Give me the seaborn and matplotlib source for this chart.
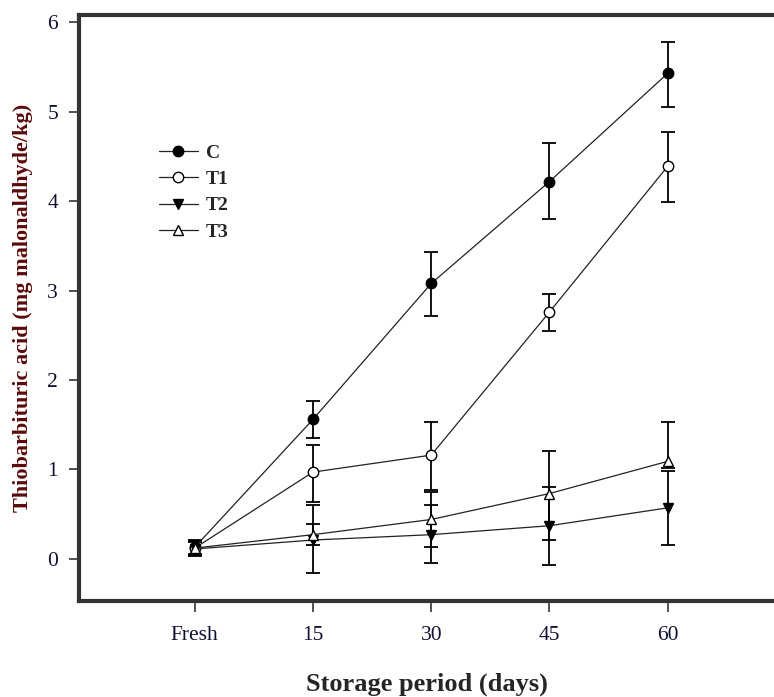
import numpy as np
import pandas as pd
import matplotlib
matplotlib.use("Agg")
import matplotlib.pyplot as plt
import seaborn as sns

# values
days = ["Fresh", "15", "30", "45", "60"]
c_vals = [0.13, 1.56, 3.08, 4.22, 5.43]
t1_vals = [0.12, 0.97, 1.16, 2.76, 4.39]
t2_vals = [0.11, 0.21, 0.27, 0.37, 0.57]
t3_vals = [0.12, 0.27, 0.44, 0.73, 1.09]

# lower / upper error bar lengths
c_lo = [0.08, 0.21, 0.36, 0.42, 0.37]
c_hi = [0.08, 0.21, 0.35, 0.43, 0.35]
t1_lo = [0.08, 0.34, 0.39, 0.21, 0.40]
t1_hi = [0.08, 0.30, 0.37, 0.20, 0.39]
t2_lo = [0.08, 0.37, 0.32, 0.44, 0.41]
t2_hi = [0.08, 0.39, 0.33, 0.43, 0.41]
t3_lo = [0.08, 0.12, 0.31, 0.52, 0.07]
t3_hi = [0.08, 0.12, 0.31, 0.48, 0.44]

series = {
    "C": (c_vals, c_lo, c_hi, "o", "black"),
    "T1": (t1_vals, t1_lo, t1_hi, "o", "white"),
    "T2": (t2_vals, t2_lo, t2_hi, "v", "black"),
    "T3": (t3_vals, t3_lo, t3_hi, "^", "white"),
}

sns.set_style("white")
plt.rcParams["font.family"] = ["Liberation Serif", "DejaVu Serif"]

fig = plt.figure(figsize=(7.74, 6.97), dpi=100)
ax = fig.add_axes([0.102, 0.138, 0.898, 0.840])

x = np.arange(len(days))
for name, (vals, lo, hi, mk, face) in series.items():
    ax.errorbar(x, vals, yerr=[lo, hi], fmt="none", ecolor="black",
                elinewidth=1.3, capsize=5, capthick=1.3, zorder=2)
    sns.lineplot(x=x, y=vals, ax=ax, color="#222222", linewidth=0.9,
                 marker=mk, markersize=7.5, markerfacecolor=face,
                 markeredgecolor="black", markeredgewidth=1.0,
                 label=name, zorder=3)

ax.set_xlim(-0.98, 4.9)
ax.set_ylim(-0.47, 6.08)
ax.set_xticks(x)
ax.set_xticklabels(days)
ax.set_yticks(range(0, 7))

for side in ["left", "top", "bottom"]:
    ax.spines[side].set_linewidth(3)
    ax.spines[side].set_color("#333333")
ax.spines["right"].set_visible(False)

ax.tick_params(axis="both", direction="out", length=7, width=1.2,
               bottom=True, left=True,
               color="#333333", labelsize=15.5, labelcolor="#111133", pad=8)
ax.tick_params(axis="x", length=8, pad=10)

ax.set_xlabel("Storage period (days)", fontsize=19, fontweight="bold",
              labelpad=20)
ax.set_ylabel("Thiobarbituric acid (mg malonaldhyde/kg)", fontsize=16,
              fontweight="bold", color="#5a0a0a", labelpad=10)

leg = ax.legend(loc="upper left", bbox_to_anchor=(0.09, 0.81), frameon=False,
                prop={"size": 14, "weight": "bold"}, handlelength=2.0,
                labelspacing=0.45, handletextpad=0.4)

fig.savefig("out.png", dpi=100)
